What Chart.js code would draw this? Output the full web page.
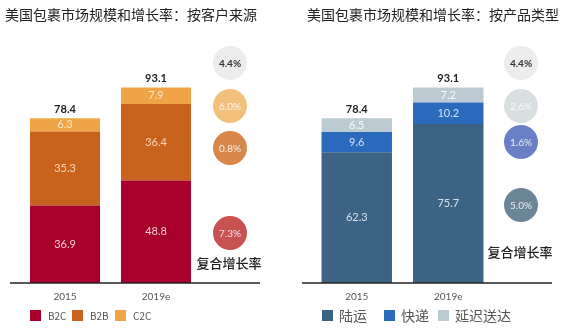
<!DOCTYPE html>
<html>
<head>
<meta charset="utf-8">
<script src="https://cdn.jsdelivr.net/npm/chart.js@4"></script>
<style>
  html, body { margin: 0; padding: 0; background: #fff; }
  #izq, #der { position: absolute; top: 0; }
  #izq { left: 0; }
  #der { left: 285px; }
</style>
</head>
<body>
<canvas id="izq" width="284" height="331"></canvas>
<canvas id="der" width="284" height="331"></canvas>
<script>
const anios = ['2015', '2019e'];

// por cliente
const b2c = [36.9, 48.8];
const b2b = [35.3, 36.4];
const c2c = [6.3, 7.9];
const totalesCliente = [78.4, 93.1];
const tasasCliente = ['4.4%', '6.0%', '0.8%', '7.3%'];

// por producto
const luyun = [62.3, 75.7];
const kuaidi = [9.6, 10.2];
const yanchi = [6.5, 7.2];
const totalesProducto = [78.4, 93.1];
const tasasProducto = ['4.4%', '2.6%', '1.6%', '5.0%'];

const fuenteCJK = '"Noto Sans CJK SC", "Noto Sans", sans-serif';
const fuenteNum = 'Lato, "Noto Sans", sans-serif';

// dibuja valores, totales, linea base, circulos, leyenda y titulo
const plugAnotaciones = {
  id: 'anotaciones',
  afterDatasetsDraw(chart, args, opts) {
    const ctx = chart.ctx;
    ctx.save();
    ctx.textAlign = 'center';
    ctx.textBaseline = 'middle';
    chart.data.datasets.forEach((ds, d) => {
      const meta = chart.getDatasetMeta(d);
      meta.data.forEach((bar, i) => {
        ctx.fillStyle = ds.colorTexto;
        ctx.font = '11px ' + fuenteNum;
        ctx.fillText(ds.data[i].toFixed(1), bar.x, (bar.y + bar.base) / 2);
      });
    });
    const ultimo = chart.getDatasetMeta(chart.data.datasets.length - 1);
    ultimo.data.forEach((bar, i) => {
      ctx.fillStyle = '#222';
      ctx.font = 'bold 11px ' + fuenteNum;
      ctx.fillText(opts.totales[i].toFixed(1), bar.x, bar.y - 9);
    });
    ctx.restore();
  },
  afterDraw(chart, args, opts) {
    const ctx = chart.ctx;
    const fondo = chart.chartArea.bottom;
    ctx.save();
    // linea base
    ctx.strokeStyle = '#222';
    ctx.lineWidth = 1.3;
    ctx.beginPath();
    ctx.moveTo(opts.lineaDesde, fondo);
    ctx.lineTo(opts.lineaHasta, fondo);
    ctx.stroke();
    // titulo
    ctx.fillStyle = '#222';
    ctx.font = '14px ' + fuenteCJK;
    ctx.textAlign = 'left';
    ctx.textBaseline = 'middle';
    ctx.fillText(opts.titulo, opts.tituloX, 15);
    // leyenda
    chart.data.datasets.forEach((ds, i) => {
      const x = opts.leyendaX[i];
      ctx.fillStyle = ds.backgroundColor;
      ctx.fillRect(x, 310, 11, 11);
      ctx.fillStyle = '#555';
      ctx.font = opts.tamLeyenda + 'px ' + fuenteCJK;
      ctx.fillText(ds.label, x + opts.sepLeyenda, 316);
    });
    // circulos de crecimiento
    ctx.textAlign = 'center';
    opts.tasas.forEach((t, i) => {
      ctx.fillStyle = opts.coloresCirculo[i];
      ctx.beginPath();
      ctx.arc(opts.circuloX, opts.circuloY[i], 17, 0, Math.PI * 2);
      ctx.fill();
      ctx.fillStyle = i === 0 ? '#333' : 'rgba(255,255,255,0.85)';
      ctx.font = (i === 0 ? 'bold ' : '') + '10px ' + fuenteNum;
      ctx.fillText(t, opts.circuloX, opts.circuloY[i] + 1);
    });
    ctx.fillStyle = '#222';
    ctx.font = '500 13px ' + fuenteCJK;
    ctx.fillText('复合增长率', opts.textoX, opts.textoY);
    ctx.restore();
  }
};

const crearGrafico = (id, series, etiquetas, colores, coloresTexto, padding, anot) => {
  const ctx = document.getElementById(id).getContext('2d');
  new Chart(ctx, {
    type: 'bar',
    data: {
      labels: anios,
      datasets: series.map((s, i) => ({
        label: etiquetas[i],
        data: s,
        backgroundColor: colores[i],
        colorTexto: coloresTexto[i],
        borderWidth: 0,
        barPercentage: 0.77,
        categoryPercentage: 1
      }))
    },
    options: {
      responsive: false,
      animation: false,
      devicePixelRatio: 1,
      layout: { padding },
      scales: {
        x: {
          stacked: true,
          grid: { display: false, drawTicks: false },
          border: { display: false },
          ticks: { color: '#555', font: { size: 10, family: fuenteNum }, padding: 8 }
        },
        y: { stacked: true, display: false, min: 0, max: 115 }
      },
      plugins: {
        legend: { display: false },
        tooltip: { enabled: false },
        anotaciones: anot
      }
    },
    plugins: [plugAnotaciones]
  });
};

crearGrafico('izq', [b2c, b2b, c2c], ['B2C', 'B2B', 'C2C'],
  ['#a7002c', '#c9621c', '#efa545'],
  ['rgba(255,225,230,0.9)', 'rgba(255,225,200,0.9)', 'rgba(255,240,220,0.9)'],
  { left: 19.5, right: 82.5, top: 41.5, bottom: 20 },
  {
    totales: totalesCliente,
    tasas: tasasCliente,
    coloresCirculo: ['#ececec', '#f3c07c', '#d8874a', '#c85152'],
    circuloX: 230,
    circuloY: [63, 106, 148, 233],
    textoX: 229,
    textoY: 263,
    lineaDesde: 10,
    lineaHasta: 260,
    titulo: '美国包裹市场规模和增长率：按客户来源',
    tituloX: 5,
    leyendaX: [30, 72, 115],
    sepLeyenda: 18,
    tamLeyenda: 10
  });

crearGrafico('der', [luyun, kuaidi, yanchi], ['陆运', '快递', '延迟送达'],
  ['#3d6384', '#2a6abd', '#bccbd1'],
  ['rgba(230,240,250,0.9)', 'rgba(230,240,255,0.9)', 'rgba(255,255,255,0.9)'],
  { left: 26, right: 75, top: 41.5, bottom: 20 },
  {
    totales: totalesProducto,
    tasas: tasasProducto,
    coloresCirculo: ['#ececec', '#d9dfe1', '#6a80c6', '#6b8599'],
    circuloX: 236,
    circuloY: [63, 106, 142, 205],
    textoX: 235,
    textoY: 252,
    lineaDesde: 17,
    lineaHasta: 267,
    titulo: '美国包裹市场规模和增长率：按产品类型',
    tituloX: 22,
    leyendaX: [37, 99, 153],
    sepLeyenda: 17,
    tamLeyenda: 14
  });
</script>
</body>
</html>
